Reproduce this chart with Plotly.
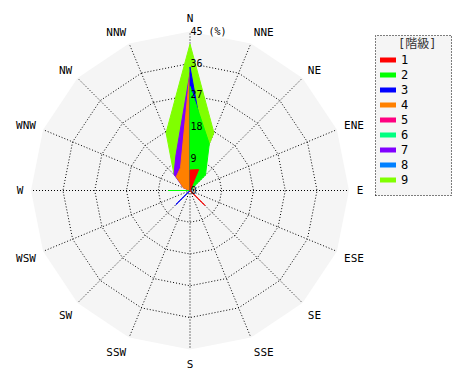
import plotly.graph_objects as go

# ---- data ----
directions = ["N", "NNE", "NE", "ENE", "E", "ESE", "SE", "SSE",
              "S", "SSW", "SW", "WSW", "W", "WNW", "NW", "NNW"]
class_names = ["1", "2", "3", "4", "5", "6", "7", "8", "9"]
class_colors = ["#FF0000", "#00FF00", "#0000FF", "#FF8000", "#FF0080",
                "#00FF80", "#8000FF", "#0080FF", "#80FF00"]

class1 = [5.8, 6.4, 0, 0, 0, 0, 6.0, 0, 0, 0, 0, 0, 0, 0, 0, 0]
class2 = [29.5, 14.3, 6.2, 0, 0, 0, 0, 0, 0, 0, 0, 0, 6.1, 0, 0, 0]
class3 = [35.0, 11.5, 0, 0, 0, 0, 0, 0, 0, 0, 5.7, 0, 0, 0, 0, 0]
class4 = [33.5, 0, 0, 0, 0, 0, 0, 0, 0, 0, 0, 0, 0, 2.0, 5.5, 7.0]
class5 = [0, 0, 0, 0, 0, 0, 0, 0, 0, 0, 0, 0, 0, 0, 0, 0]
class6 = [0, 0, 0, 0, 0, 0, 0, 0, 0, 0, 0, 0, 0, 0, 0, 0]
class7 = [33.3, 0, 0, 0, 0, 0, 0, 0, 0, 0, 0, 0, 0, 2.0, 6.4, 10.5]
class8 = [0, 0, 0, 0, 0, 0, 0, 0, 0, 0, 0, 0, 0, 0, 0, 0]
class9 = [41.5, 17.7, 0, 0, 0, 0, 0, 0, 0, 0, 0, 0, 0, 0, 6.4, 17.7]
class_values = [class1, class2, class3, class4, class5, class6, class7, class8, class9]

radial_ticks = [0, 9, 18, 27, 36, 45]
radial_ticktext = ["0", "9", "18", "27", "36", "45 (%)"]
legend_title = "[階級]"

W, H = 470, 380
FONT = "DejaVu Sans Mono, Noto Sans CJK JP, sans-serif"
DOTS = "1px,2px"

fig = go.Figure()
# draw from highest class (back) to lowest (front)
for name, color, vals in reversed(list(zip(class_names, class_colors, class_values))):
    fig.add_trace(go.Scatterpolar(
        r=vals + [vals[0]],
        theta=directions + [directions[0]],
        mode="lines",
        fill="toself",
        fillcolor=color,
        line=dict(color=color, width=1),
        name=name,
        showlegend=False,
        hoverinfo="skip",
    ))

cx, cy, rad = 190, 190.5, 159
fig.update_layout(
    width=W, height=H,
    margin=dict(l=0, r=0, t=0, b=0),
    paper_bgcolor="white",
    font=dict(family=FONT, size=11, color="black"),
    showlegend=False,
    polar=dict(
        domain=dict(x=[(cx - rad) / W, (cx + rad) / W],
                    y=[1 - (cy + rad) / H, 1 - (cy - rad) / H]),
        bgcolor="#F5F5F5",
        gridshape="linear",
        angularaxis=dict(
            type="category",
            categoryarray=directions,
            direction="clockwise",
            rotation=90,
            showline=False,
            showgrid=True,
            gridcolor="black",
            griddash=DOTS,
            gridwidth=1,
            ticks="outside",
            ticklen=5,
            tickcolor="rgba(0,0,0,0)",
            tickfont=dict(family=FONT, size=11, color="black"),
        ),
        radialaxis=dict(
            range=[0, 45.05],
            angle=90,
            tickangle=90,
            tickvals=radial_ticks,
            ticktext=radial_ticktext,
            showline=False,
            showgrid=True,
            gridcolor="black",
            griddash=DOTS,
            gridwidth=1,
            ticks="",
            tickfont=dict(family=FONT, size=10, color="black"),
        ),
    ),
)

# ---- manual legend ----
def px(x):
    return x / W

def py(y):
    return 1 - y / H

fig.add_shape(type="rect", xref="paper", yref="paper",
              x0=px(375.5), x1=px(451.5), y0=py(195.5), y1=py(35.5),
              line=dict(color="black", width=1, dash=DOTS),
              fillcolor="#F5F5F5", layer="below")
fig.add_annotation(xref="paper", yref="paper", x=px(417), y=py(44),
                   text=legend_title, showarrow=False,
                   font=dict(family=FONT, size=12, color="#333333"),
                   xanchor="center", yanchor="middle")
for i, (name, color) in enumerate(zip(class_names, class_colors)):
    yy = 60 + 15 * i
    fig.add_shape(type="line", xref="paper", yref="paper",
                  x0=px(380), x1=px(396), y0=py(yy), y1=py(yy),
                  line=dict(color=color, width=5))
    fig.add_annotation(xref="paper", yref="paper", x=px(399), y=py(yy),
                       text=name, showarrow=False,
                       font=dict(family=FONT, size=12, color="black"),
                       xanchor="left", yanchor="middle")

fig.write_html("out.html", config={"displayModeBar": False},
               post_script="document.body.style.margin='0px';")
